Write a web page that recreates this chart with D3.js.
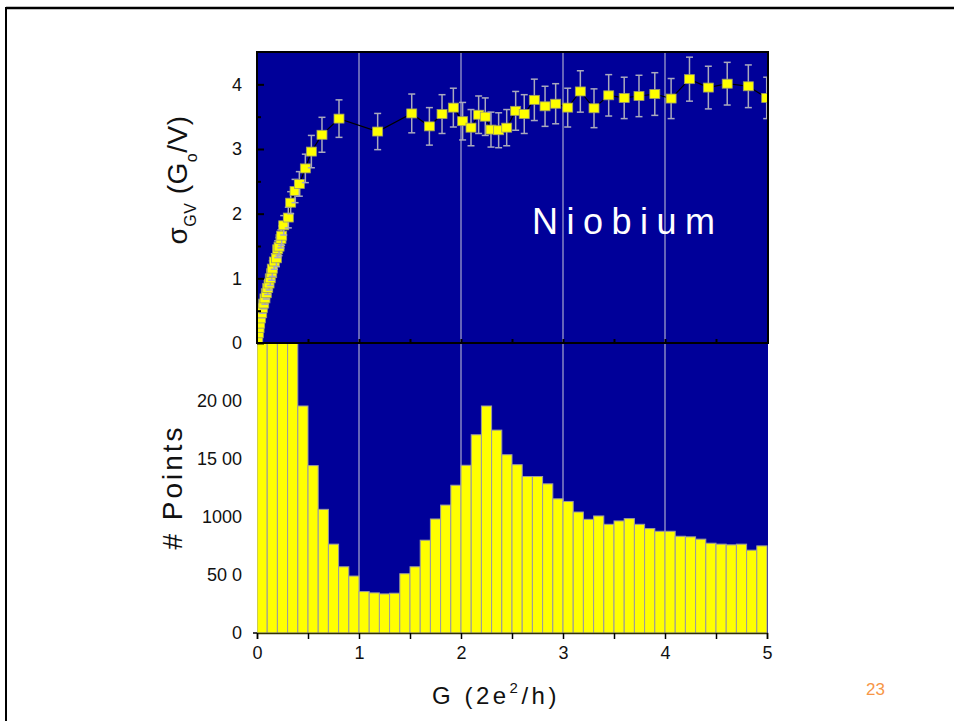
<!DOCTYPE html>
<html>
<head>
<meta charset="utf-8">
<script src="https://cdn.jsdelivr.net/npm/d3@7"></script>
<style>
  html, body { margin: 0; padding: 0; background: #fff; }
  svg { display: block; }
  text { font-family: "Liberation Sans", Arial, sans-serif; }
</style>
</head>
<body>
<svg id="chart" width="954" height="721"></svg>
<script>
// Conductance G (2e^2/h) of each sigma point
const sigmaG = [0.007, 0.013, 0.020, 0.026, 0.033, 0.046, 0.052, 0.066, 0.078, 0.091,
  0.105, 0.118, 0.130, 0.144, 0.150, 0.170, 0.190, 0.203, 0.216, 0.235,
  0.242, 0.262, 0.307, 0.330, 0.373, 0.415, 0.474, 0.533, 0.637, 0.804,
  1.183, 1.517, 1.690, 1.814, 1.925, 2.016, 2.098, 2.173, 2.238, 2.294,
  2.369, 2.448, 2.536, 2.620, 2.719, 2.824, 2.928, 3.046, 3.170, 3.304,
  3.448, 3.600, 3.745, 3.900, 4.060, 4.240, 4.425, 4.610, 4.817, 4.997];
// sigma_GV values (G0/V)
const sigmaVal = [0.07, 0.15, 0.23, 0.30, 0.38, 0.46, 0.54, 0.61, 0.69, 0.77,
  0.85, 0.92, 1.00, 1.08, 1.15, 1.26, 1.31, 1.45, 1.49, 1.61,
  1.66, 1.82, 1.94, 2.17, 2.35, 2.46, 2.70, 2.96, 3.22, 3.47,
  3.27, 3.55, 3.35, 3.54, 3.64, 3.43, 3.33, 3.53, 3.50, 3.30,
  3.29, 3.33, 3.59, 3.54, 3.76, 3.66, 3.70, 3.64, 3.89, 3.63,
  3.83, 3.79, 3.82, 3.85, 3.78, 4.08, 3.95, 4.01, 3.97, 3.79];
// error bar half-widths
const sigmaErr = [0.03, 0.04, 0.05, 0.06, 0.06, 0.07, 0.08, 0.08, 0.09, 0.09,
  0.10, 0.10, 0.11, 0.11, 0.12, 0.12, 0.13, 0.13, 0.14, 0.14,
  0.15, 0.15, 0.16, 0.17, 0.18, 0.19, 0.22, 0.25, 0.27, 0.29,
  0.28, 0.30, 0.29, 0.30, 0.30, 0.29, 0.28, 0.29, 0.29, 0.27,
  0.27, 0.28, 0.30, 0.30, 0.32, 0.31, 0.31, 0.30, 0.32, 0.30,
  0.32, 0.32, 0.32, 0.33, 0.31, 0.34, 0.33, 0.33, 0.33, 0.32];

// Histogram: bins of width 0.1 from 0 to 5, counts per bin
const binStarts = d3.range(50).map(i => +(i * 0.1).toFixed(1));
const binWidth = 0.1;
const binCounts = [4200, 3900, 3300, 2700, 1957, 1443, 1066, 766, 571, 491,
  357, 346, 337, 343, 511, 571, 800, 983, 1103, 1274,
  1446, 1709, 1957, 1749, 1537, 1451, 1349, 1349, 1286, 1157,
  1134, 1043, 980, 1009, 937, 966, 986, 937, 900, 877,
  877, 834, 829, 809, 774, 766, 760, 766, 714, 751];

// Tick values and labels
const xTicks = [0, 1, 2, 3, 4, 5];
const xTicksMinor = [0, 0.5, 1, 1.5, 2, 2.5, 3, 3.5, 4, 4.5, 5];
const sigmaTicks = [0, 1, 2, 3, 4];
const sigmaTicksMinor = [0.5, 1.5, 2.5, 3.5];
const countTicks = [0, 500, 1000, 1500, 2000];
const countTickLabels = ["0", "50 0", "1000", "15 00", "20 00"];
const gridLines = [1, 2, 3, 4];

const svg = d3.select("#chart");
const BG = "#000099";

// Slide frame lines
svg.append("line").attr("x1", 6).attr("x2", 954).attr("y1", 8).attr("y2", 8)
  .attr("stroke", "#000").attr("stroke-width", 2.5);
svg.append("line").attr("x1", 6).attr("x2", 6).attr("y1", 7).attr("y2", 721)
  .attr("stroke", "#000").attr("stroke-width", 2);

const left = 257, right = 767;
const topTop = 52, topBottom = 343, botBottom = 633;

const x = d3.scaleLinear().domain([0, 5]).range([left, right]);
const ySig = d3.scaleLinear().domain([0, 4.5]).range([topBottom, topTop]);
const yCnt = d3.scaleLinear().domain([0, 2500]).range([botBottom, topBottom]);

const defs = svg.append("defs");
defs.append("clipPath").attr("id", "clipTop").append("rect")
  .attr("x", left).attr("y", topTop).attr("width", right - left + 1).attr("height", topBottom - topTop);
defs.append("clipPath").attr("id", "clipBot").append("rect")
  .attr("x", left).attr("y", topBottom).attr("width", right - left + 1).attr("height", botBottom - topBottom);

// ---- Bottom panel: histogram ----
svg.append("rect").attr("x", left).attr("y", topBottom)
  .attr("width", right - left + 1).attr("height", botBottom - topBottom).attr("fill", BG);

const botG = svg.append("g").attr("clip-path", "url(#clipBot)");
botG.selectAll("line.grid").data(gridLines).join("line")
  .attr("x1", d => x(d)).attr("x2", d => x(d))
  .attr("y1", topBottom).attr("y2", botBottom)
  .attr("stroke", "#c8c8d8").attr("stroke-width", 1);

botG.selectAll("rect.bar").data(binStarts).join("rect")
  .attr("x", (d) => x(d))
  .attr("width", x(binWidth) - x(0))
  .attr("y", (d, i) => yCnt(binCounts[i]))
  .attr("height", (d, i) => yCnt(0) - yCnt(binCounts[i]))
  .attr("fill", "#ffff00")
  .attr("stroke", "#9a9aa0")
  .attr("stroke-width", 1);

// bottom x axis
const xAxisBot = d3.axisBottom(x).tickValues(xTicksMinor).tickSize(6)
  .tickFormat(d => Number.isInteger(d) ? d3.format("d")(d) : "");
const gxb = svg.append("g").attr("transform", `translate(0,${botBottom})`).call(xAxisBot);
gxb.select(".domain").attr("stroke", "#333300").attr("stroke-width", 1.5);
gxb.selectAll(".tick line").attr("stroke", "#000").attr("stroke-width", 1.5);
gxb.selectAll(".tick text").attr("font-size", 18).attr("fill", "#111").attr("dy", "0.95em")
  .attr("font-family", "Liberation Sans, Arial, sans-serif");

// bottom y axis (labels only)
const yAxisBot = d3.axisLeft(yCnt).tickValues(countTicks).tickSize(0)
  .tickFormat((d, i) => countTickLabels[i]);
const gyb = svg.append("g").attr("transform", `translate(${left - 2},0)`).call(yAxisBot);
gyb.select(".domain").remove();
gyb.selectAll(".tick text").attr("font-size", 18).attr("fill", "#111").attr("x", -13)
  .attr("font-family", "Liberation Sans, Arial, sans-serif");
svg.append("line").attr("x1", left - 4).attr("x2", left).attr("y1", botBottom).attr("y2", botBottom)
  .attr("stroke", "#000").attr("stroke-width", 1.5);

// ---- Top panel: sigma_GV ----
svg.append("rect").attr("x", left).attr("y", topTop)
  .attr("width", right - left + 1).attr("height", topBottom - topTop).attr("fill", BG);

const topG = svg.append("g").attr("clip-path", "url(#clipTop)");
topG.selectAll("line.grid").data(gridLines).join("line")
  .attr("x1", d => x(d)).attr("x2", d => x(d))
  .attr("y1", topTop).attr("y2", topBottom)
  .attr("stroke", "#c8c8d8").attr("stroke-width", 1);

const pts = sigmaG.map((g, i) => ({ g, s: sigmaVal[i], e: sigmaErr[i] }));

// connecting line
topG.append("path").datum(pts)
  .attr("d", d3.line().x(d => x(d.g)).y(d => ySig(d.s)))
  .attr("fill", "none").attr("stroke", "#000").attr("stroke-width", 1.2);

// error bars with markers, point by point
const cap = 3.5, mw = 10, mh = 9;
const pg = topG.selectAll("g.pt").data(pts).join("g");
pg.append("line")
  .attr("x1", d => x(d.g)).attr("x2", d => x(d.g))
  .attr("y1", d => ySig(d.s - d.e)).attr("y2", d => ySig(d.s + d.e))
  .attr("stroke", "#a9a9bd").attr("stroke-width", 1.5);
pg.append("line")
  .attr("x1", d => x(d.g) - cap).attr("x2", d => x(d.g) + cap)
  .attr("y1", d => ySig(d.s + d.e)).attr("y2", d => ySig(d.s + d.e))
  .attr("stroke", "#a9a9bd").attr("stroke-width", 1.5);
pg.append("line")
  .attr("x1", d => x(d.g) - cap).attr("x2", d => x(d.g) + cap)
  .attr("y1", d => ySig(d.s - d.e)).attr("y2", d => ySig(d.s - d.e))
  .attr("stroke", "#a9a9bd").attr("stroke-width", 1.5);
pg.append("rect")
  .attr("x", d => x(d.g) - mw / 2).attr("y", d => ySig(d.s) - mh / 2)
  .attr("width", mw).attr("height", mh)
  .attr("fill", "#ffff00").attr("stroke", "#9c9c6a").attr("stroke-width", 0.8);

// frame of the top panel
svg.append("rect").attr("x", left).attr("y", topTop)
  .attr("width", right - left + 1).attr("height", topBottom - topTop)
  .attr("fill", "none").attr("stroke", "#000").attr("stroke-width", 2);

// inward ticks on top panel
const yAxisTop = d3.axisRight(ySig).tickValues(sigmaTicks).tickSize(7).tickFormat("");
const gyt = svg.append("g").attr("transform", `translate(${left},0)`).call(yAxisTop);
gyt.select(".domain").remove();
gyt.selectAll(".tick line").attr("stroke", "#000").attr("stroke-width", 2);
svg.append("g").attr("transform", `translate(${left},0)`)
  .call(d3.axisRight(ySig).tickValues(sigmaTicksMinor).tickSize(4).tickFormat(""))
  .call(g => g.select(".domain").remove())
  .selectAll(".tick line").attr("stroke", "#000").attr("stroke-width", 2);

svg.append("g").attr("transform", `translate(0,${topBottom})`)
  .call(d3.axisTop(x).tickValues(xTicksMinor.slice(1, -1)).tickSize(4).tickFormat(""))
  .call(g => g.select(".domain").remove())
  .selectAll(".tick line").attr("stroke", "#000").attr("stroke-width", 2);

// y tick labels of the top panel
svg.append("g").selectAll("text").data(sigmaTicks).join("text")
  .attr("x", left - 15).attr("y", d => ySig(d)).attr("dy", "0.35em")
  .attr("text-anchor", "end").attr("font-size", 18).attr("fill", "#111")
  .text(d => d);

// panel label
svg.append("text").attr("x", 532).attr("y", 234)
  .attr("font-size", 36).attr("fill", "#fff").attr("letter-spacing", 8.5)
  .text("Niobium");

// y axis title, top panel
const yt1 = svg.append("text")
  .attr("transform", "translate(187,180) rotate(-90)")
  .attr("text-anchor", "middle").attr("font-size", 28).attr("fill", "#111")
  .attr("letter-spacing", 0.5);
yt1.append("tspan").text("σ");
yt1.append("tspan").attr("font-size", 16).attr("dy", 9).text("GV");
yt1.append("tspan").attr("dy", -9).text(" (G");
yt1.append("tspan").attr("font-size", 16).attr("dy", 10).text("o");
yt1.append("tspan").attr("dy", -10).text("/V)");

// y axis title, bottom panel
svg.append("text")
  .attr("transform", "translate(182,487) rotate(-90)")
  .attr("text-anchor", "middle").attr("font-size", 28).attr("fill", "#111")
  .attr("letter-spacing", 3)
  .text("# Points");

// x axis title
const xt = svg.append("text").attr("x", 496).attr("y", 704)
  .attr("text-anchor", "middle").attr("font-size", 24).attr("fill", "#111")
  .attr("letter-spacing", 3.5);
xt.append("tspan").text("G  (2e");
xt.append("tspan").attr("font-size", 15).attr("dy", -11).text("2");
xt.append("tspan").attr("dy", 11).text("/h)");

// slide number
svg.append("text").attr("x", 866).attr("y", 695)
  .attr("font-family", "Liberation Serif, Times New Roman, serif")
  .attr("font-size", 17).attr("fill", "#f79646").text("23");
</script>
</body>
</html>
